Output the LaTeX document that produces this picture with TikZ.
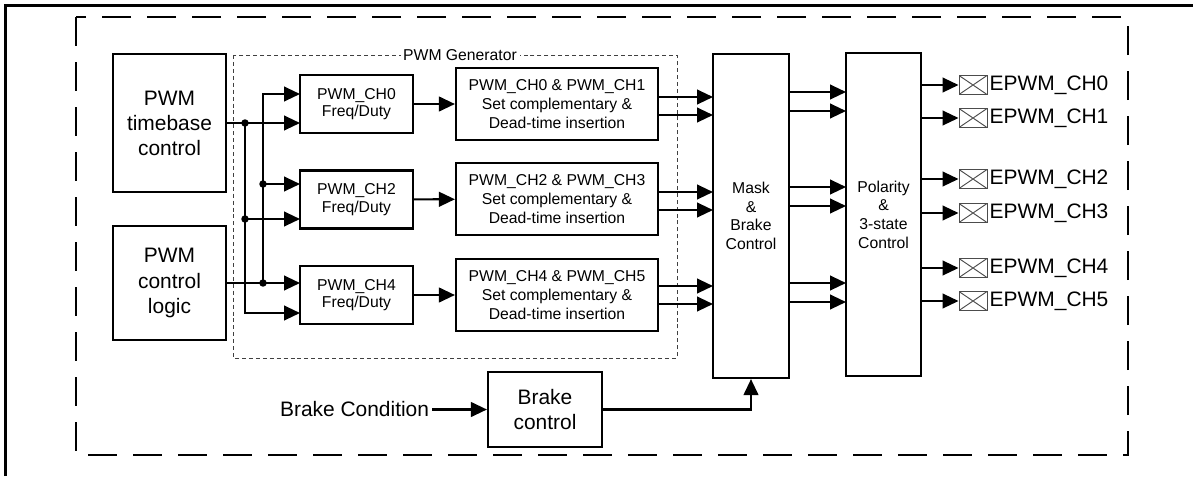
\documentclass[tikz,border=0pt]{standalone}
\usepackage{fontspec}
\setmainfont{Liberation Sans}
\usetikzlibrary{arrows.meta}

\begin{document}
\begin{tikzpicture}[x=0.75pt,y=0.75pt,yscale=-1,xscale=1,
  >={Triangle[length=12pt,width=11pt]},
  wire/.style={line width=1.6pt},
  blk/.style={draw,line width=1.6pt,inner sep=0pt,align=center},
  bigblk/.style={blk,font=\fontsize{15.7}{18.8}\selectfont},
  smallblk/.style={blk,font=\fontsize{11.8}{14}\selectfont},
  freqblk/.style={smallblk,minimum width=84.75pt,minimum height=43.5pt,font=\fontsize{11.8}{13}\selectfont},
  compblk/.style={smallblk,minimum width=151.5pt,minimum height=54pt},
  pad/.style={draw=black!70,line width=0.7pt,minimum width=21pt,minimum height=14.25pt,inner sep=0pt,
    path picture={\draw[black!70,line width=0.7pt] (path picture bounding box.south west) -- (path picture bounding box.north east)
      (path picture bounding box.north west) -- (path picture bounding box.south east);}},
  padlbl/.style={anchor=west,inner sep=1.5pt,font=\fontsize{15.7}{18.8}\selectfont},
  junct/.style={circle,fill,inner sep=0pt,minimum size=5.6pt}]
\useasboundingbox (0,0) rectangle (1193,476);

%Shape: Frame
\draw [line width=2.4pt] (5.7,476) -- (5.7,5.7) -- (1193,5.7) ;
%Shape: Dashed Frame
\draw [line width=1.7pt,dash pattern=on 21.75pt off 12pt] (76,17) rectangle (1128,455) ;
%Shape: PWM Generator Frame
\draw [color=black!75,line width=0.75pt,dash pattern=on 3pt off 2.2pt] (233,55) rectangle (677,358) ;
\node [fill=white,inner sep=2pt,font=\fontsize{11.8}{14}\selectfont] (gen) at (460,55) {PWM Generator};

% Blocks
\node [bigblk,minimum width=84.75pt,minimum height=103.5pt] (tb) at (169.5,123) {PWM\\timebase\\control};
\node [bigblk,minimum width=84.75pt,minimum height=85.5pt] (logic) at (169.5,283) {PWM\\control\\logic};
\node [freqblk] (ch0) at (356.5,104) {PWM\_CH0\\Freq/Duty};
\node [freqblk] (ch2) at (356.5,199.5) {PWM\_CH2\\Freq/Duty};
\node [freqblk] (ch4) at (356.5,295) {PWM\_CH4\\Freq/Duty};
\node [compblk] (c01) at (557,104) {PWM\_CH0 \& PWM\_CH1\\Set complementary \&\\Dead-time insertion};
\node [compblk] (c23) at (557,199) {PWM\_CH2 \& PWM\_CH3\\Set complementary \&\\Dead-time insertion};
\node [compblk] (c45) at (557,295) {PWM\_CH4 \& PWM\_CH5\\Set complementary \&\\Dead-time insertion};
\node [smallblk,minimum width=57pt,minimum height=243pt] (mask) at (751,216) {Mask\\\&\\Brake\\Control};
\node [smallblk,minimum width=56.25pt,minimum height=242.25pt] (pol) at (883.5,214.5) {Polarity\\\&\\3-state\\Control};
\node [bigblk,minimum width=85.5pt,minimum height=56.25pt] (brk) at (545,409.5) {Brake\\control};
% Text Node
\node [anchor=east,inner sep=2pt,font=\fontsize{15.7}{18.8}\selectfont] (cond) at (432,409.5) {Brake Condition};

% Ports
\coordinate (busA) at (245,0);
\coordinate (busB) at (263,0);
\coordinate (ch0a) at (300,94);   \coordinate (ch0b) at (300,123);
\coordinate (ch2a) at (300,184);  \coordinate (ch2b) at (300,219);
\coordinate (ch4a) at (300,283);  \coordinate (ch4b) at (300,313);
\coordinate (mskin0) at (713,97);  \coordinate (mskin1) at (713,115);
\coordinate (mskin2) at (713,192); \coordinate (mskin3) at (713,210);
\coordinate (mskin4) at (713,286); \coordinate (mskin5) at (713,304);
\coordinate (polin0) at (846,92);  \coordinate (polin1) at (846,111);
\coordinate (polin2) at (846,187); \coordinate (polin3) at (846,206);
\coordinate (polin4) at (846,283); \coordinate (polin5) at (846,302);

% Pads
\node [pad] (pad0) at (973,85) {};   \node [padlbl] (lbl0) at (pad0.east) {EPWM\_CH0};
\node [pad] (pad1) at (973,118) {};  \node [padlbl] (lbl1) at (pad1.east) {EPWM\_CH1};
\node [pad] (pad2) at (973,179) {};  \node [padlbl] (lbl2) at (pad2.east) {EPWM\_CH2};
\node [pad] (pad3) at (973,213) {};  \node [padlbl] (lbl3) at (pad3.east) {EPWM\_CH3};
\node [pad] (pad4) at (973,268) {};  \node [padlbl] (lbl4) at (pad4.east) {EPWM\_CH4};
\node [pad] (pad5) at (973,301) {};  \node [padlbl] (lbl5) at (pad5.east) {EPWM\_CH5};

%Straight Lines: timebase bus
\draw [wire,->] (tb.east) -- (ch0b) ;
\draw [wire,->] (busA |- ch0b) -- (busA |- ch4b) -- (ch4b) ;
\draw [wire,->] (busA |- ch2b) -- (ch2b) ;
\node [junct] (j0) at (busA |- ch0b) {};
\node [junct] (j1) at (busA |- ch2b) {};
%Straight Lines: control logic bus
\draw [wire,->] (logic.east) -- (ch4a) ;
\draw [wire,->] (busB |- ch4a) -- (busB |- ch0a) -- (ch0a) ;
\draw [wire,->] (busB |- ch2a) -- (ch2a) ;
\node [junct] (j2) at (busB |- ch2a) {};
\node [junct] (j3) at (busB |- ch4a) {};

%Straight Lines: generator
\draw [wire,->] (ch0) -- (c01) ;
\draw [wire,->] (ch2) -- (c23) ;
\draw [wire,->] (ch4) -- (c45) ;
\draw [wire,->] (c01.east |- mskin0) -- (mskin0) ;
\draw [wire,->] (c01.east |- mskin1) -- (mskin1) ;
\draw [wire,->] (c23.east |- mskin2) -- (mskin2) ;
\draw [wire,->] (c23.east |- mskin3) -- (mskin3) ;
\draw [wire,->] (c45.east |- mskin4) -- (mskin4) ;
\draw [wire,->] (c45.east |- mskin5) -- (mskin5) ;

%Straight Lines: mask to polarity
\draw [wire,->] (mask.east |- polin0) -- (polin0) ;
\draw [wire,->] (mask.east |- polin1) -- (polin1) ;
\draw [wire,->] (mask.east |- polin2) -- (polin2) ;
\draw [wire,->] (mask.east |- polin3) -- (polin3) ;
\draw [wire,->] (mask.east |- polin4) -- (polin4) ;
\draw [wire,->] (mask.east |- polin5) -- (polin5) ;

%Straight Lines: outputs
\draw [wire,->] (pol.east |- pad0) -- (pad0) ;
\draw [wire,->] (pol.east |- pad1) -- (pad1) ;
\draw [wire,->] (pol.east |- pad2) -- (pad2) ;
\draw [wire,->] (pol.east |- pad3) -- (pad3) ;
\draw [wire,->] (pol.east |- pad4) -- (pad4) ;
\draw [wire,->] (pol.east |- pad5) -- (pad5) ;

%Straight Lines: brake
\draw [wire,->] (cond) -- (brk) ;
\draw [wire,->] (brk.east) -| (mask.south) ;

\end{tikzpicture}
\end{document}
